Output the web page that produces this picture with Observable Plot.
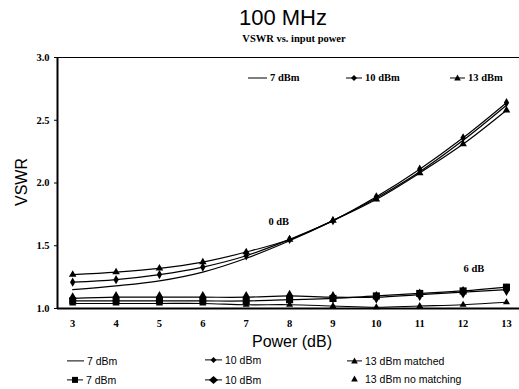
<!DOCTYPE html>
<html>
<head>
<meta charset="utf-8">
<script src="https://cdn.jsdelivr.net/npm/d3@7"></script>
<script src="https://cdn.jsdelivr.net/npm/@observablehq/plot@0.6"></script>
<style>
  html, body { margin: 0; padding: 0; background: #fff; }
  #wrap { position: relative; width: 519px; height: 389px; overflow: hidden; background: #fff; }
  #chart { position: absolute; left: 0; top: 48px; z-index: 1; }
  .abs { position: absolute; white-space: nowrap; color: #000; line-height: 1; z-index: 2; }
  .serifb { font-family: "Liberation Serif", "DejaVu Serif", serif; font-weight: bold; }
  .sans { font-family: "Liberation Sans", Arial, sans-serif; }
  .c { transform: translate(-50%, -50%); }
  .l { transform: translate(0, -50%); }
</style>
</head>
<body>
<div id="wrap">
  <div id="chart"></div>
  <div class="abs sans c" style="left:283px;top:18px;font-size:22px;">100 MHz</div>
  <div class="abs serifb c" style="left:294px;top:39px;font-size:10.5px;">VSWR vs. input power</div>
  <div class="abs sans c" style="left:22px;top:182px;font-size:16px;transform:translate(-50%,-50%) rotate(-90deg);">VSWR</div>
  <div class="abs sans c" style="left:292px;top:342px;font-size:16px;">Power (dB)</div>
  <div id="legends"></div>
</div>
<script>
// ---- data ----
const power = [3, 4, 5, 6, 7, 8, 9, 10, 11, 12, 13];
const tickLabels = ["3", "4", "5", "6", "7", "8", "9", "10", "11", "12", "13"];
const yTicks = [1.0, 1.5, 2.0, 2.5, 3.0];
// 0 dB group
const vswr0_7 = [1.15, 1.18, 1.22, 1.29, 1.40, 1.54, 1.70, 1.88, 2.09, 2.34, 2.62];
const vswr0_10 = [1.21, 1.23, 1.27, 1.33, 1.42, 1.55, 1.70, 1.89, 2.11, 2.36, 2.64];
const vswr0_13 = [1.27, 1.29, 1.32, 1.37, 1.45, 1.55, 1.70, 1.87, 2.08, 2.31, 2.58];
// 6 dB group
const vswr6_7 = [1.06, 1.06, 1.06, 1.06, 1.06, 1.07, 1.08, 1.10, 1.12, 1.14, 1.17];
const vswr6_10 = [1.08, 1.09, 1.09, 1.09, 1.09, 1.10, 1.09, 1.09, 1.11, 1.13, 1.15];
const vswr6_13 = [1.04, 1.04, 1.04, 1.04, 1.03, 1.03, 1.02, 1.01, 1.02, 1.03, 1.05];
const annotations = [{x: 7.75, y: 1.69, text: "0 dB"}, {x: 12.25, y: 1.32, text: "6 dB"}];
const xDomain = [2.65, 13.3];
const yDomain = [1, 3];

const mk = (arr) => power.map((p, i) => ({p, v: arr[i]}));
const s07 = mk(vswr0_7), s010 = mk(vswr0_10), s013 = mk(vswr0_13);
const s67 = mk(vswr6_7), s610 = mk(vswr6_10), s613 = mk(vswr6_13);

const lineOpt = {x: "p", y: "v", stroke: "black", strokeWidth: 1.2, curve: "catmull-rom"};

const plot = Plot.plot({
  width: 519,
  height: 302,
  marginLeft: 57,
  marginRight: 0,
  marginTop: 9,
  marginBottom: 42,
  style: {fontFamily: "'Liberation Serif', serif", fontWeight: "bold", fontSize: "10.5px", background: "transparent", overflow: "visible"},
  x: {domain: xDomain, ticks: power, tickFormat: (d) => tickLabels[power.indexOf(d)], tickSize: 0, tickPadding: 11, label: null},
  y: {domain: yDomain, ticks: yTicks, tickFormat: d3.format(".1f"), tickSize: 3, tickPadding: 5, label: null},
  marks: [
    Plot.line(s67, lineOpt),
    Plot.line(s610, lineOpt),
    Plot.line(s613, lineOpt),
    Plot.line(s07, lineOpt),
    Plot.line(s010, lineOpt),
    Plot.line(s013, lineOpt),
    Plot.dot(s010, {x: "p", y: "v", symbol: "diamond", r: 2.8, fill: "black"}),
    Plot.dot(s013, {x: "p", y: "v", symbol: "triangle", r: 2.8, fill: "black"}),
    Plot.dot(s67, {x: "p", y: "v", symbol: "square", r: 4, fill: "black"}),
    Plot.dot(s610, {x: "p", y: "v", symbol: "diamond", r: 3.8, fill: "black"}),
    Plot.dot(s613, {x: "p", y: "v", symbol: "triangle", r: 2.6, fill: "black"}),
    Plot.ruleY([yDomain[1]], {stroke: "black", strokeWidth: 1.2}),
    Plot.ruleY([yDomain[0]], {stroke: "black", strokeWidth: 2}),
    Plot.ruleX([xDomain[0]], {stroke: "black", strokeWidth: 2}),
    Plot.text(annotations, {x: "x", y: "y", text: "text", fontSize: 10.5, fontWeight: "bold", fill: "black"})
  ]
});
document.getElementById("chart").appendChild(plot);

// ---- legends (HTML overlays) ----
function sample(kind, w) {
  const h = 12, cy = 6;
  let s = `<svg width="${w}" height="${h}" style="vertical-align:middle;overflow:visible">`;
  if (kind !== "tri-only") s += `<line x1="0" x2="${w}" y1="${cy}" y2="${cy}" stroke="black" stroke-width="1"/>`;
  const cx = w / 2;
  if (kind === "diamond") s += `<path d="M${cx},${cy-3}L${cx+3},${cy}L${cx},${cy+3}L${cx-3},${cy}Z" fill="black"/>`;
  if (kind === "bigdiamond") s += `<path d="M${cx},${cy-4}L${cx+4.5},${cy}L${cx},${cy+4}L${cx-4.5},${cy}Z" fill="black"/>`;
  if (kind === "tri" || kind === "tri-only") s += `<path d="M${cx},${cy-3.5}L${cx+3.3},${cy+2.5}L${cx-3.3},${cy+2.5}Z" fill="black"/>`;
  if (kind === "square") s += `<rect x="${cx-3}" y="${cy-3}" width="6" height="6" fill="black"/>`;
  return s + `</svg>`;
}
const legendItems = [
  {left: 248, top: 78, kind: "line", w: 19, label: "7 dBm", cls: "serifb", fs: 10.5},
  {left: 346, top: 78, kind: "diamond", w: 16, label: "10 dBm", cls: "serifb", fs: 10.5},
  {left: 450, top: 78, kind: "tri", w: 15, label: "13 dBm", cls: "serifb", fs: 10.5},
  {left: 67, top: 361, kind: "line", w: 17, label: "7 dBm", cls: "sans", fs: 10.5},
  {left: 205, top: 360, kind: "diamond", w: 17, label: "10 dBm", cls: "sans", fs: 10.5},
  {left: 347, top: 361, kind: "tri", w: 15, label: "13 dBm matched", cls: "sans", fs: 10.5},
  {left: 67, top: 380, kind: "square", w: 16, label: "7 dBm", cls: "sans", fs: 10.5},
  {left: 205, top: 380, kind: "bigdiamond", w: 17, label: "10 dBm", cls: "sans", fs: 10.5},
  {left: 347, top: 379, kind: "tri-only", w: 15, label: "13 dBm no matching", cls: "sans", fs: 10.5}
];
const lg = document.getElementById("legends");
for (const it of legendItems) {
  const d = document.createElement("div");
  d.className = "abs l " + it.cls;
  d.style.left = it.left + "px";
  d.style.top = it.top + "px";
  d.style.fontSize = it.fs + "px";
  d.innerHTML = sample(it.kind, it.w) + `<span style="margin-left:3px;vertical-align:middle">${it.label}</span>`;
  lg.appendChild(d);
}
</script>
</body>
</html>
